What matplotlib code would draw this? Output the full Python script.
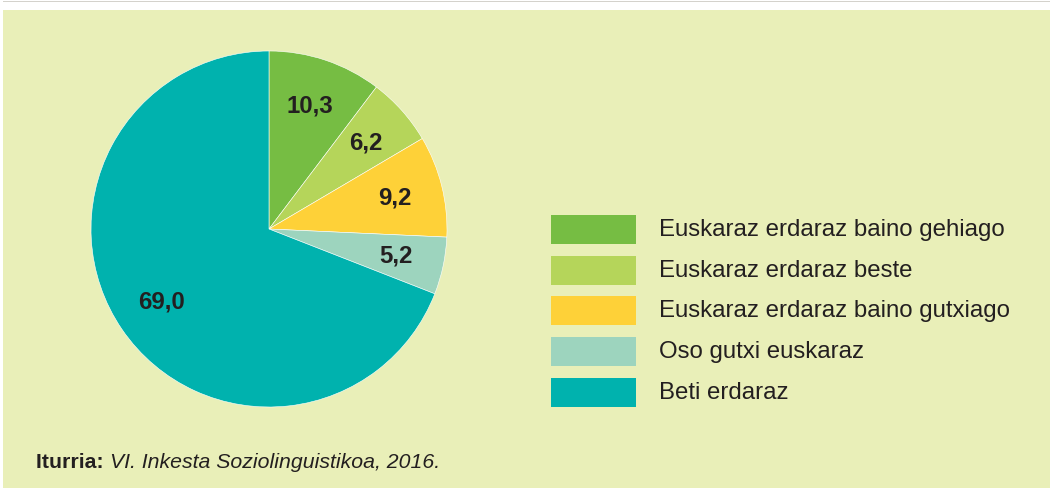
import matplotlib
matplotlib.use("Agg")
import matplotlib.pyplot as plt
from matplotlib.patches import Rectangle

# Data
categories = [
    "Euskaraz erdaraz baino gehiago",
    "Euskaraz erdaraz beste",
    "Euskaraz erdaraz baino gutxiago",
    "Oso gutxi euskaraz",
    "Beti erdaraz",
]
values = [10.3, 6.2, 9.2, 5.2, 69.0]
colors = ["#76bd43", "#b5d55a", "#fed138", "#9dd4be", "#00b2ae"]

BG = "#e9efb8"
TXT = "#231f20"
W, H = 1050, 488

plt.rcParams["font.family"] = ["Liberation Sans", "DejaVu Sans"]

fig = plt.figure(figsize=(W / 100, H / 100), dpi=100, facecolor="white")

# background panel and thin grey rule at the top
fig.patches.append(Rectangle((3 / W, 0), 1 - 3 / W, 1 - 10 / H,
                             transform=fig.transFigure, facecolor=BG,
                             edgecolor="none", zorder=-5))
fig.patches.append(Rectangle((3 / W, 1 - 2 / H), 1, 1.2 / H,
                             transform=fig.transFigure, facecolor="#d4d2cc",
                             edgecolor="none", zorder=-5))

# pie: centre (269, 229), radius 178 px
r = 178
cx, cy = 269, 229
ax = fig.add_axes([(cx - r) / W, (H - cy - r) / H, 2 * r / W, 2 * r / H])
ax.set_zorder(2)
ax.set_facecolor("none")
wedges, texts = ax.pie(values, colors=colors, startangle=90, counterclock=False,
                       radius=1, labels=[f"{v:.1f}".replace(".", ",") for v in values],
                       labeldistance=0.73,
                       wedgeprops=dict(edgecolor="white", linewidth=0.4),
                       textprops=dict(fontsize=17.3, fontweight="bold", color=TXT,
                                      ha="center", va="center"))
ax.set_xlim(-1, 1)
ax.set_ylim(-1, 1)
ax.set_aspect("equal")
ax.axis("off")

# legend drawn by hand
for i, (lab, col) in enumerate(zip(categories, colors)):
    top = 215 + i * 40.7
    fig.patches.append(Rectangle((551 / W, (H - top - 29) / H), 85 / W, 29 / H,
                                 transform=fig.transFigure, facecolor=col,
                                 edgecolor="none"))
    fig.text(659 / W, (H - top - 15) / H, lab, fontsize=17.3, color=TXT,
             ha="left", va="center")

# source note
t = fig.text(36 / W, (H - 463) / H, "Iturria: ", fontsize=15.3, fontweight="bold",
             color=TXT, ha="left", va="center")
fig.canvas.draw()
bb = t.get_window_extent()
fig.text(bb.x1 / W, (H - 463) / H, "VI. Inkesta Soziolinguistikoa, 2016.",
         fontsize=15.3, style="italic", color=TXT, ha="left", va="center")

fig.savefig("out.png", dpi=100, facecolor="white")
plt.close(fig)
